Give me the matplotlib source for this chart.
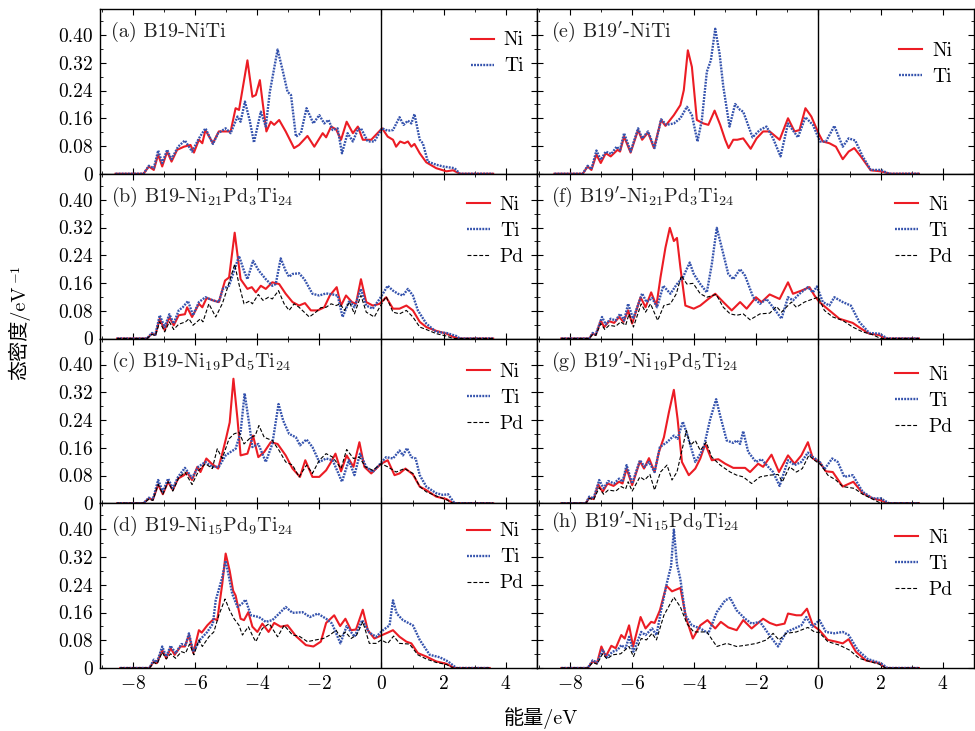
import matplotlib.pyplot as plt
from matplotlib.ticker import MultipleLocator

plt.rcParams['font.family'] = ['cmr10', 'Noto Sans CJK SC']
plt.rcParams['mathtext.fontset'] = 'cm'
plt.rcParams['axes.linewidth'] = 1.0

# (energy eV, DOS) points
a_ni = [(-8.55, 0), (-7.65, 0), (-7.48, .021), (-7.32, .011), (-7.18, .055), (-7.05, .021), (-6.89, .064),
        (-6.75, .035), (-6.57, .069), (-6.35, .078), (-6.14, .083), (-6.03, .061), (-5.87, .098), (-5.76, .088),
        (-5.66, .126), (-5.42, .088), (-5.23, .122), (-5.01, .122), (-4.85, .122), (-4.69, .189), (-4.58, .184),
        (-4.31, .327), (-4.15, .222), (-4.04, .227), (-3.91, .270), (-3.83, .212), (-3.70, .122), (-3.56, .150),
        (-3.45, .141), (-3.29, .155), (-3.08, .122), (-2.81, .074), (-2.65, .083), (-2.38, .109), (-2.16, .078),
        (-1.89, .117), (-1.78, .105), (-1.62, .136), (-1.46, .128), (-1.30, .098), (-1.12, .150), (-0.92, .117),
        (-0.76, .136), (-0.60, .098), (-0.33, .098), (0.02, .131), (0.20, .107), (0.37, .098), (0.47, .078),
        (0.60, .093), (0.74, .088), (0.85, .093), (0.96, .078), (1.06, .086), (1.23, .059), (1.44, .033),
        (1.76, .016), (2.09, .007), (2.30, .010), (2.52, 0), (3.59, 0)]
a_ti = [(-8.55, 0), (-7.65, 0), (-7.48, .023), (-7.32, .016), (-7.18, .067), (-7.05, .031), (-6.89, .069),
        (-6.75, .042), (-6.54, .078), (-6.32, .096), (-6.09, .064), (-5.87, .102), (-5.66, .131), (-5.42, .086),
        (-5.25, .117), (-5.01, .131), (-4.85, .117), (-4.63, .165), (-4.53, .150), (-4.39, .208), (-4.24, .155),
        (-4.10, .090), (-3.88, .179), (-3.72, .136), (-3.59, .236), (-3.34, .358), (-3.18, .299), (-3.02, .236),
        (-2.91, .227), (-2.75, .107), (-2.59, .117), (-2.41, .189), (-2.19, .145), (-2.00, .169), (-1.84, .145),
        (-1.70, .155), (-1.57, .126), (-1.41, .131), (-1.27, .059), (-1.09, .117), (-0.92, .093), (-0.76, .128),
        (-0.66, .131), (-0.44, .093), (-0.23, .093), (0.02, .131), (0.20, .124), (0.37, .126), (0.58, .163),
        (0.71, .141), (0.85, .153), (0.96, .145), (1.06, .172), (1.23, .098), (1.33, .088), (1.49, .035),
        (1.76, .026), (1.98, .021), (2.35, .016), (2.52, 0), (3.59, 0)]

b_ni = [(-8.5, 0), (-7.54, 0), (-7.38, .014), (-7.27, .010), (-7.13, .057), (-6.97, .024), (-6.82, .062),
        (-6.68, .038), (-6.52, .067), (-6.32, .070), (-6.25, .090), (-6.09, .062), (-5.87, .100), (-5.76, .090),
        (-5.62, .117), (-5.42, .110), (-5.23, .105), (-5.03, .167), (-4.90, .176), (-4.72, .305), (-4.53, .171),
        (-4.31, .143), (-4.17, .148), (-4.04, .133), (-3.88, .152), (-3.72, .143), (-3.51, .162), (-3.29, .157),
        (-3.08, .129), (-2.86, .105), (-2.65, .095), (-2.46, .102), (-2.27, .081), (-2.05, .081), (-1.84, .090),
        (-1.66, .124), (-1.44, .148), (-1.30, .095), (-1.14, .124), (-0.95, .105), (-0.82, .100), (-0.66, .171),
        (-0.49, .105), (-0.28, .095), (-0.06, .100), (0.15, .119), (0.37, .086), (0.58, .086), (0.80, .095),
        (1.01, .081), (1.23, .048), (1.44, .033), (1.76, .022), (2.09, .014), (2.30, .005), (2.52, 0), (3.59, 0)]
b_ti = [(-8.5, 0), (-7.54, 0), (-7.38, .016), (-7.27, .011), (-7.13, .067), (-6.97, .033), (-6.82, .070),
        (-6.68, .043), (-6.52, .081), (-6.39, .090), (-6.22, .108), (-6.06, .067), (-5.87, .105), (-5.66, .119),
        (-5.42, .110), (-5.23, .105), (-5.10, .143), (-4.90, .152), (-4.58, .238), (-4.42, .195), (-4.31, .171),
        (-4.13, .224), (-3.94, .195), (-3.72, .171), (-3.51, .152), (-3.40, .157), (-3.24, .231), (-3.08, .195),
        (-2.97, .178), (-2.86, .186), (-2.65, .188), (-2.48, .171), (-2.22, .129), (-2.00, .124), (-1.78, .130),
        (-1.57, .127), (-1.41, .124), (-1.25, .062), (-1.03, .110), (-0.87, .090), (-0.66, .143), (-0.49, .095),
        (-0.28, .086), (-0.06, .114), (0.20, .152), (0.37, .138), (0.53, .129), (0.69, .124), (0.85, .143),
        (1.01, .124), (1.17, .081), (1.44, .043), (1.76, .019), (2.09, .016), (2.41, .007), (2.52, 0), (3.59, 0)]
b_pd = [(-8.5, 0), (-7.54, 0), (-7.38, .012), (-7.27, .008), (-7.13, .048), (-6.97, .019), (-6.82, .048),
        (-6.68, .026), (-6.52, .041), (-6.30, .048), (-6.19, .057), (-6.06, .038), (-5.82, .057), (-5.74, .048),
        (-5.55, .100), (-5.33, .062), (-5.12, .100), (-5.01, .129), (-4.72, .214), (-4.56, .148), (-4.42, .100),
        (-4.24, .108), (-4.15, .100), (-3.96, .127), (-3.81, .110), (-3.63, .119), (-3.51, .114), (-3.31, .138),
        (-3.13, .100), (-2.97, .081), (-2.81, .100), (-2.65, .090), (-2.32, .062), (-2.11, .076), (-1.95, .089),
        (-1.78, .090), (-1.62, .100), (-1.46, .095), (-1.33, .100), (-1.19, .081), (-1.03, .105), (-0.87, .071),
        (-0.66, .124), (-0.49, .076), (-0.23, .062), (-0.06, .090), (0.15, .121), (0.37, .076), (0.58, .071),
        (0.80, .081), (1.01, .062), (1.23, .033), (1.44, .026), (1.76, .014), (2.09, .007), (2.30, 0), (3.59, 0)]

c_ni = [(-8.5, 0), (-7.65, 0), (-7.48, .014), (-7.35, .010), (-7.18, .054), (-7.03, .026), (-6.86, .062),
        (-6.71, .038), (-6.54, .071), (-6.35, .081), (-6.25, .089), (-6.09, .067), (-5.92, .105), (-5.82, .090),
        (-5.63, .129), (-5.46, .114), (-5.25, .100), (-5.12, .143), (-4.99, .190), (-4.88, .233), (-4.76, .359),
        (-4.63, .243), (-4.53, .138), (-4.31, .143), (-4.13, .195), (-3.96, .133), (-3.77, .148), (-3.56, .176),
        (-3.34, .171), (-3.08, .138), (-2.86, .100), (-2.62, .076), (-2.45, .124), (-2.22, .076), (-2.00, .076),
        (-1.78, .095), (-1.62, .119), (-1.48, .143), (-1.30, .092), (-1.12, .138), (-0.90, .105), (-0.71, .176),
        (-0.55, .105), (-0.33, .086), (-0.01, .114), (0.20, .124), (0.42, .081), (0.58, .086), (0.77, .100),
        (1.01, .083), (1.23, .048), (1.44, .038), (1.76, .019), (2.09, .012), (2.30, 0), (3.59, 0)]
c_ti = [(-8.5, 0), (-7.65, 0), (-7.48, .016), (-7.35, .011), (-7.18, .067), (-7.03, .033), (-6.86, .071),
        (-6.71, .043), (-6.54, .076), (-6.32, .102), (-6.09, .073), (-5.89, .105), (-5.66, .119), (-5.44, .105),
        (-5.23, .105), (-5.01, .138), (-4.85, .148), (-4.69, .157), (-4.53, .205), (-4.40, .317), (-4.26, .233),
        (-4.15, .162), (-3.96, .171), (-3.72, .119), (-3.51, .171), (-3.31, .286), (-3.16, .238), (-2.97, .200),
        (-2.75, .190), (-2.62, .167), (-2.41, .184), (-2.22, .162), (-2.00, .119), (-1.78, .129), (-1.57, .124),
        (-1.27, .062), (-1.05, .124), (-0.87, .081), (-0.69, .143), (-0.49, .105), (-0.28, .090), (-0.04, .114),
        (0.15, .133), (0.37, .129), (0.58, .152), (0.69, .138), (0.82, .159), (0.96, .133), (1.10, .129),
        (1.23, .081), (1.44, .048), (1.76, .029), (1.98, .024), (2.14, .026), (2.35, 0), (3.59, 0)]
c_pd = [(-8.5, 0), (-7.65, 0), (-7.48, .012), (-7.35, .008), (-7.18, .054), (-7.03, .026), (-6.86, .062),
        (-6.71, .035), (-6.52, .073), (-6.32, .090), (-6.09, .054), (-5.87, .095), (-5.66, .114), (-5.44, .100),
        (-5.28, .157), (-5.12, .129), (-4.90, .186), (-4.74, .200), (-4.58, .205), (-4.42, .171), (-4.20, .190),
        (-4.06, .195), (-3.94, .224), (-3.77, .190), (-3.51, .181), (-3.29, .152), (-3.08, .119), (-2.86, .110),
        (-2.65, .076), (-2.41, .110), (-2.22, .086), (-2.00, .124), (-1.78, .143), (-1.57, .133), (-1.30, .100),
        (-1.12, .155), (-0.90, .129), (-0.71, .133), (-0.52, .105), (-0.28, .095), (-0.01, .114), (0.20, .105),
        (0.47, .090), (0.74, .100), (1.01, .086), (1.23, .048), (1.44, .033), (1.76, .021), (2.09, .010),
        (2.30, 0), (3.59, 0)]

d_ni = [(-8.4, 0), (-7.46, 0), (-7.32, .019), (-7.22, .014), (-7.05, .052), (-6.92, .028), (-6.78, .057),
        (-6.65, .038), (-6.46, .062), (-6.32, .062), (-6.19, .095), (-6.05, .043), (-5.87, .109), (-5.78, .102),
        (-5.60, .123), (-5.39, .142), (-5.28, .138), (-5.12, .242), (-5.01, .330), (-4.88, .280), (-4.77, .223),
        (-4.69, .209), (-4.53, .142), (-4.42, .138), (-4.28, .161), (-4.15, .119), (-3.99, .104), (-3.83, .128),
        (-3.63, .104), (-3.45, .130), (-3.24, .119), (-3.02, .123), (-2.75, .092), (-2.43, .066), (-2.19, .062),
        (-1.95, .076), (-1.78, .130), (-1.52, .152), (-1.33, .121), (-1.16, .142), (-0.98, .109), (-0.82, .111),
        (-0.60, .168), (-0.44, .109), (-0.23, .085), (0.02, .095), (0.20, .102), (0.37, .109), (0.58, .090),
        (0.80, .076), (0.96, .071), (1.17, .043), (1.44, .033), (1.76, .019), (2.09, .012), (2.35, 0), (3.48, 0)]
d_ti = [(-8.4, 0), (-7.46, 0), (-7.32, .024), (-7.22, .016), (-7.05, .062), (-6.92, .033), (-6.78, .064),
        (-6.62, .043), (-6.43, .069), (-6.30, .066), (-6.19, .100), (-6.05, .047), (-5.82, .083), (-5.60, .104),
        (-5.42, .128), (-5.33, .195), (-5.12, .261), (-5.01, .309), (-4.90, .261), (-4.80, .214), (-4.63, .176),
        (-4.49, .185), (-4.37, .197), (-4.20, .152), (-3.94, .147), (-3.72, .133), (-3.51, .138), (-3.29, .157),
        (-3.08, .176), (-2.86, .159), (-2.54, .161), (-2.30, .147), (-2.05, .157), (-1.78, .142), (-1.59, .128),
        (-1.32, .071), (-1.12, .121), (-0.87, .090), (-0.62, .138), (-0.39, .102), (-0.17, .090), (0.02, .107),
        (0.26, .123), (0.37, .195), (0.49, .157), (0.69, .138), (1.01, .123), (1.23, .081), (1.55, .038),
        (1.87, .031), (2.14, .019), (2.41, 0), (3.48, 0)]
d_pd = [(-8.4, 0), (-7.46, 0), (-7.32, .016), (-7.22, .011), (-7.05, .045), (-6.92, .026), (-6.78, .041),
        (-6.62, .028), (-6.43, .047), (-6.30, .043), (-6.17, .069), (-6.03, .038), (-5.87, .081), (-5.76, .062),
        (-5.55, .090), (-5.39, .104), (-5.23, .152), (-5.03, .199), (-4.88, .166), (-4.74, .142), (-4.58, .123),
        (-4.47, .095), (-4.28, .119), (-4.13, .090), (-4.04, .076), (-3.83, .114), (-3.61, .128), (-3.34, .090),
        (-3.13, .123), (-2.86, .095), (-2.65, .092), (-2.38, .076), (-2.11, .081), (-1.87, .085), (-1.66, .095),
        (-1.46, .109), (-1.33, .090), (-1.16, .104), (-0.98, .085), (-0.80, .095), (-0.60, .133), (-0.39, .071),
        (-0.17, .071), (-0.01, .081), (0.20, .071), (0.39, .092), (0.58, .071), (0.90, .069), (1.17, .038),
        (1.44, .026), (1.76, .016), (2.09, .010), (2.30, 0), (3.48, 0)]

e_ni = [(-8.49, 0), (-7.58, 0), (-7.42, .021), (-7.30, .011), (-7.14, .055), (-7.00, .031), (-6.84, .059),
        (-6.68, .050), (-6.46, .069), (-6.38, .064), (-6.25, .107), (-6.04, .061), (-5.80, .126), (-5.67, .098),
        (-5.48, .119), (-5.29, .074), (-5.06, .155), (-4.92, .138), (-4.65, .169), (-4.44, .198), (-4.33, .241),
        (-4.20, .356), (-4.07, .308), (-3.91, .155), (-3.70, .145), (-3.54, .141), (-3.34, .182), (-3.16, .141),
        (-3.00, .098), (-2.89, .074), (-2.74, .098), (-2.61, .098), (-2.42, .102), (-2.18, .072), (-1.99, .102),
        (-1.78, .122), (-1.57, .122), (-1.25, .098), (-0.98, .160), (-0.77, .122), (-0.61, .126), (-0.42, .189),
        (-0.23, .165), (0.00, .117), (0.14, .093), (0.35, .088), (0.56, .078), (0.78, .042), (0.97, .064),
        (1.15, .074), (1.36, .050), (1.68, .010), (2.00, .007), (2.22, .002), (2.32, 0), (3.23, 0)]
e_ti = [(-8.49, 0), (-7.58, 0), (-7.42, .023), (-7.30, .013), (-7.14, .067), (-7.00, .040), (-6.84, .064),
        (-6.66, .057), (-6.49, .078), (-6.38, .069), (-6.25, .117), (-6.04, .064), (-5.80, .131), (-5.67, .102),
        (-5.48, .122), (-5.27, .074), (-5.06, .157), (-4.89, .141), (-4.65, .145), (-4.44, .160), (-4.23, .193),
        (-4.07, .169), (-3.89, .093), (-3.75, .155), (-3.59, .294), (-3.46, .327), (-3.32, .418), (-3.18, .346),
        (-3.06, .251), (-2.86, .136), (-2.68, .201), (-2.52, .184), (-2.42, .179), (-2.12, .105), (-1.89, .126),
        (-1.67, .136), (-1.46, .102), (-1.22, .050), (-0.98, .145), (-0.66, .105), (-0.42, .163), (-0.18, .141),
        (0.05, .093), (0.24, .093), (0.51, .138), (0.78, .078), (0.97, .102), (1.18, .096), (1.42, .050),
        (1.68, .011), (2.00, .011), (2.27, 0), (3.23, 0)]

f_ni = [(-8.27, 0), (-7.37, 0), (-7.26, .014), (-7.16, .010), (-7.00, .052), (-6.89, .033), (-6.73, .050),
        (-6.57, .045), (-6.41, .062), (-6.27, .048), (-6.12, .081), (-5.99, .043), (-5.72, .119), (-5.56, .090),
        (-5.38, .133), (-5.21, .095), (-5.08, .176), (-4.92, .262), (-4.78, .319), (-4.65, .281), (-4.55, .290),
        (-4.44, .205), (-4.28, .095), (-4.01, .086), (-3.80, .095), (-3.54, .114), (-3.32, .129), (-3.06, .105),
        (-2.79, .081), (-2.52, .105), (-2.31, .086), (-2.01, .119), (-1.83, .105), (-1.57, .127), (-1.25, .114),
        (-0.98, .162), (-0.82, .129), (-0.55, .138), (-0.29, .148), (-0.13, .124), (0.03, .105), (0.35, .081),
        (0.67, .057), (1.10, .045), (1.36, .029), (1.63, .014), (1.95, .010), (2.16, 0), (3.23, 0)]
f_ti = [(-8.27, 0), (-7.37, 0), (-7.26, .016), (-7.16, .012), (-6.96, .062), (-6.84, .041), (-6.68, .057),
        (-6.52, .052), (-6.38, .071), (-6.25, .052), (-6.12, .100), (-5.96, .057), (-5.67, .130), (-5.53, .105),
        (-5.35, .117), (-5.19, .090), (-4.99, .152), (-4.76, .129), (-4.55, .157), (-4.36, .176), (-4.14, .219),
        (-4.01, .186), (-3.80, .157), (-3.59, .133), (-3.43, .214), (-3.27, .319), (-3.11, .262), (-2.90, .186),
        (-2.74, .171), (-2.52, .200), (-2.36, .181), (-2.10, .119), (-1.88, .100), (-1.67, .114), (-1.46, .090),
        (-1.19, .057), (-0.98, .119), (-0.82, .110), (-0.61, .129), (-0.34, .148), (-0.18, .133), (-0.05, .150),
        (0.14, .105), (0.35, .095), (0.51, .119), (0.78, .105), (1.04, .095), (1.31, .048), (1.63, .016),
        (1.95, .014), (2.22, 0), (3.23, 0)]
f_pd = [(-8.27, 0), (-7.37, 0), (-7.26, .012), (-7.16, .009), (-7.00, .043), (-6.87, .026), (-6.73, .038),
        (-6.52, .035), (-6.36, .048), (-6.20, .038), (-6.09, .071), (-5.95, .033), (-5.70, .100), (-5.56, .076),
        (-5.40, .100), (-5.17, .052), (-4.97, .095), (-4.76, .100), (-4.57, .129), (-4.41, .181), (-4.23, .157),
        (-4.03, .159), (-3.80, .129), (-3.59, .119), (-3.29, .127), (-3.06, .090), (-2.84, .071), (-2.63, .067),
        (-2.42, .071), (-2.20, .054), (-1.88, .071), (-1.57, .073), (-1.35, .092), (-1.19, .076), (-0.87, .105),
        (-0.71, .090), (-0.45, .105), (-0.18, .114), (0.00, .119), (0.19, .081), (0.46, .062), (0.78, .052),
        (1.10, .033), (1.42, .019), (1.74, .011), (2.00, 0), (3.23, 0)]

g_ni = [(-8.27, 0), (-7.48, 0), (-7.37, .016), (-7.23, .012), (-7.08, .054), (-6.94, .033), (-6.78, .057),
        (-6.59, .050), (-6.41, .062), (-6.30, .057), (-6.17, .100), (-5.99, .052), (-5.74, .121), (-5.61, .100),
        (-5.45, .130), (-5.27, .090), (-5.13, .148), (-4.97, .190), (-4.81, .262), (-4.65, .327), (-4.53, .243),
        (-4.39, .119), (-4.17, .081), (-3.96, .100), (-3.80, .129), (-3.64, .171), (-3.43, .124), (-3.22, .127),
        (-3.00, .114), (-2.74, .102), (-2.36, .102), (-2.20, .090), (-1.94, .114), (-1.78, .105), (-1.51, .140),
        (-1.27, .090), (-0.98, .138), (-0.77, .114), (-0.55, .138), (-0.34, .176), (-0.18, .129), (0.03, .119),
        (0.24, .092), (0.46, .090), (0.78, .048), (1.12, .062), (1.42, .029), (1.74, .014), (2.06, .007),
        (2.22, 0), (3.23, 0)]
g_ti = [(-8.27, 0), (-7.48, 0), (-7.37, .019), (-7.23, .014), (-7.05, .067), (-6.91, .043), (-6.76, .064),
        (-6.57, .057), (-6.41, .071), (-6.30, .062), (-6.17, .110), (-5.99, .057), (-5.74, .124), (-5.59, .105),
        (-5.45, .119), (-5.27, .090), (-5.10, .162), (-4.87, .176), (-4.65, .195), (-4.53, .186), (-4.36, .235),
        (-4.21, .195), (-3.96, .119), (-3.70, .157), (-3.48, .243), (-3.29, .300), (-3.16, .252), (-2.95, .181),
        (-2.74, .174), (-2.63, .181), (-2.52, .171), (-2.42, .208), (-2.26, .148), (-2.01, .119), (-1.83, .127),
        (-1.67, .110), (-1.46, .090), (-1.25, .050), (-0.98, .124), (-0.77, .110), (-0.55, .119), (-0.34, .146),
        (-0.18, .133), (0.03, .121), (0.19, .098), (0.44, .129), (0.62, .119), (0.83, .076), (1.10, .081),
        (1.42, .033), (1.74, .014), (2.00, .014), (2.27, 0), (3.23, 0)]
g_pd = [(-8.27, 0), (-7.48, 0), (-7.37, .014), (-7.23, .010), (-7.05, .045), (-6.91, .026), (-6.76, .038),
        (-6.52, .035), (-6.34, .048), (-6.20, .041), (-6.12, .062), (-5.99, .035), (-5.74, .076), (-5.59, .067),
        (-5.42, .083), (-5.27, .038), (-5.08, .090), (-4.87, .110), (-4.71, .067), (-4.55, .090), (-4.39, .152),
        (-4.25, .210), (-4.12, .167), (-3.96, .181), (-3.80, .152), (-3.61, .176), (-3.43, .133), (-3.16, .110),
        (-2.84, .090), (-2.63, .081), (-2.42, .076), (-2.15, .057), (-1.88, .076), (-1.57, .081), (-1.30, .083),
        (-1.16, .062), (-0.93, .105), (-0.71, .090), (-0.52, .100), (-0.31, .138), (-0.13, .124), (0.09, .110),
        (0.30, .081), (0.56, .067), (0.78, .048), (1.15, .043), (1.42, .026), (1.74, .012), (2.00, 0), (3.23, 0)]

h_ni = [(-8.27, 0), (-7.42, 0), (-7.26, .019), (-7.12, .014), (-6.98, .062), (-6.84, .033), (-6.66, .064),
        (-6.52, .057), (-6.34, .095), (-6.23, .085), (-6.09, .123), (-5.96, .062), (-5.72, .147), (-5.56, .114),
        (-5.38, .133), (-5.27, .130), (-5.10, .166), (-4.89, .237), (-4.71, .221), (-4.44, .231), (-4.25, .142),
        (-4.04, .085), (-3.80, .123), (-3.57, .138), (-3.32, .114), (-3.14, .133), (-2.90, .117), (-2.63, .109),
        (-2.42, .138), (-2.15, .114), (-1.78, .142), (-1.57, .130), (-1.35, .123), (-1.09, .128), (-0.98, .157),
        (-0.71, .152), (-0.55, .152), (-0.37, .171), (-0.18, .123), (0.03, .109), (0.30, .081), (0.56, .076),
        (0.78, .071), (0.97, .083), (1.20, .047), (1.52, .022), (1.95, .014), (2.16, 0), (3.23, 0)]
h_ti = [(-8.27, 0), (-7.42, 0), (-7.26, .022), (-7.12, .016), (-6.94, .052), (-6.80, .031), (-6.62, .047),
        (-6.46, .052), (-6.34, .066), (-6.20, .057), (-6.09, .090), (-5.95, .047), (-5.70, .104), (-5.56, .095),
        (-5.35, .114), (-5.21, .095), (-5.03, .180), (-4.87, .247), (-4.74, .294), (-4.65, .399), (-4.55, .299),
        (-4.44, .256), (-4.28, .152), (-4.07, .123), (-3.80, .114), (-3.54, .100), (-3.27, .161), (-3.00, .195),
        (-2.84, .202), (-2.63, .166), (-2.36, .142), (-2.15, .128), (-1.88, .133), (-1.54, .090), (-1.30, .062),
        (-1.03, .104), (-0.77, .114), (-0.55, .123), (-0.39, .147), (-0.20, .119), (0.03, .138), (0.24, .104),
        (0.51, .100), (0.78, .104), (0.97, .095), (1.26, .052), (1.58, .026), (2.00, .014), (2.22, 0), (3.23, 0)]
h_pd = [(-8.27, 0), (-7.42, 0), (-7.26, .016), (-7.12, .011), (-6.94, .041), (-6.80, .026), (-6.62, .038),
        (-6.36, .041), (-6.09, .062), (-5.95, .033), (-5.70, .085), (-5.53, .081), (-5.35, .100), (-5.21, .081),
        (-4.97, .152), (-4.65, .204), (-4.44, .176), (-4.23, .128), (-4.01, .104), (-3.59, .104), (-3.27, .062),
        (-2.95, .071), (-2.63, .062), (-2.31, .066), (-1.99, .071), (-1.67, .081), (-1.46, .100), (-1.27, .081),
        (-1.03, .100), (-0.71, .104), (-0.34, .117), (-0.13, .104), (0.03, .102), (0.30, .076), (0.67, .066),
        (0.99, .052), (1.31, .028), (1.63, .019), (1.95, .011), (2.16, 0), (3.23, 0)]

titles = {
    'a': '(a) B19-NiTi',
    'b': '(b) B19-Ni$_{21}$Pd$_{3}$Ti$_{24}$',
    'c': '(c) B19-Ni$_{19}$Pd$_{5}$Ti$_{24}$',
    'd': '(d) B19-Ni$_{15}$Pd$_{9}$Ti$_{24}$',
    'e': "(e) B19$'$-NiTi",
    'f': "(f) B19$'$-Ni$_{21}$Pd$_{3}$Ti$_{24}$",
    'g': "(g) B19$'$-Ni$_{19}$Pd$_{5}$Ti$_{24}$",
    'h': "(h) B19$'$-Ni$_{15}$Pd$_{9}$Ti$_{24}$",
}
curves = {
    'a': [a_ni, a_ti], 'b': [b_ni, b_ti, b_pd], 'c': [c_ni, c_ti, c_pd], 'd': [d_ni, d_ti, d_pd],
    'e': [e_ni, e_ti], 'f': [f_ni, f_ti, f_pd], 'g': [g_ni, g_ti, g_pd], 'h': [h_ni, h_ti, h_pd],
}
# legend anchor height per panel
legend_y = {'a': 0.97, 'b': 0.97, 'c': 0.96, 'd': 0.99, 'e': 0.905, 'f': 0.97, 'g': 0.94, 'h': 0.95}
names = ['Ni', 'Ti', 'Pd']
styles = [dict(color='#ec1c24', lw=1.5, ls='-'),
          dict(color='#3553ad', lw=1.7, ls=(0, (0.8, 0.5))),
          dict(color='black', lw=0.8, ls=(0, (3.5, 1.8)))]

xticks = [-8, -6, -4, -2, 0, 2, 4]
yticks = [0, 0.08, 0.16, 0.24, 0.32, 0.40]
ylabels = ['0', '0.08', '0.16', '0.24', '0.32', '0.40']

fig = plt.figure(figsize=(9.75, 7.31), dpi=100)
gs = fig.add_gridspec(4, 2, left=100 / 975, right=974 / 975, top=1 - 9 / 731, bottom=1 - 668 / 731,
                      hspace=0, wspace=0)

for col, keys in enumerate(['abcd', 'efgh']):
    for row, key in enumerate(keys):
        ax = fig.add_subplot(gs[row, col])
        for data, name, st in zip(curves[key], names, styles):
            ax.plot([p[0] for p in data], [p[1] for p in data], label=name, **st)
        ax.axvline(0, color='black', lw=1.0)
        ax.set_xlim(-9.05, 5.0)
        ax.set_ylim(0, 0.475)
        ax.set_xticks(xticks)
        ax.xaxis.set_minor_locator(MultipleLocator(1))
        ax.yaxis.set_minor_locator(MultipleLocator(0.04))
        if row == 3:
            ax.set_xticklabels(['$%d$' % t for t in xticks])
        else:
            ax.set_xticklabels([])
        if col == 0:
            ax.set_yticks(yticks, ylabels)
        else:
            ax.set_yticks(yticks, [])
        ax.tick_params(which='both', direction='in', top=True, right=True, labelsize=14, pad=5)
        ax.tick_params(which='major', length=4)
        ax.tick_params(which='minor', length=2)
        ty = 0.855 if key == 'h' else 0.83
        ax.text(0.025 if col == 0 else 0.032, ty, titles[key], transform=ax.transAxes,
                fontsize=14.5, color='#222222', va='baseline')
        ax.legend(loc='upper right', frameon=False, fontsize=14, handlelength=1.2,
                  handletextpad=0.5, labelspacing=0.42,
                  bbox_to_anchor=(1.01 if col == 0 else 0.99, legend_y[key]))

ylab = fig.text(0.02, 0.545, '态密度/eV', rotation=90, ha='center', va='center', fontsize=14.5)
ax.annotate('$-1$', xy=(0.0, 1.0), xycoords=ylab, xytext=(1, 1), textcoords='offset points',
            rotation=90, ha='left', va='bottom', fontsize=10, annotation_clip=False)
fig.text(0.555, 0.018, '能量/eV', ha='center', va='center', fontsize=14.5)

fig.savefig('out.png', dpi=100)
